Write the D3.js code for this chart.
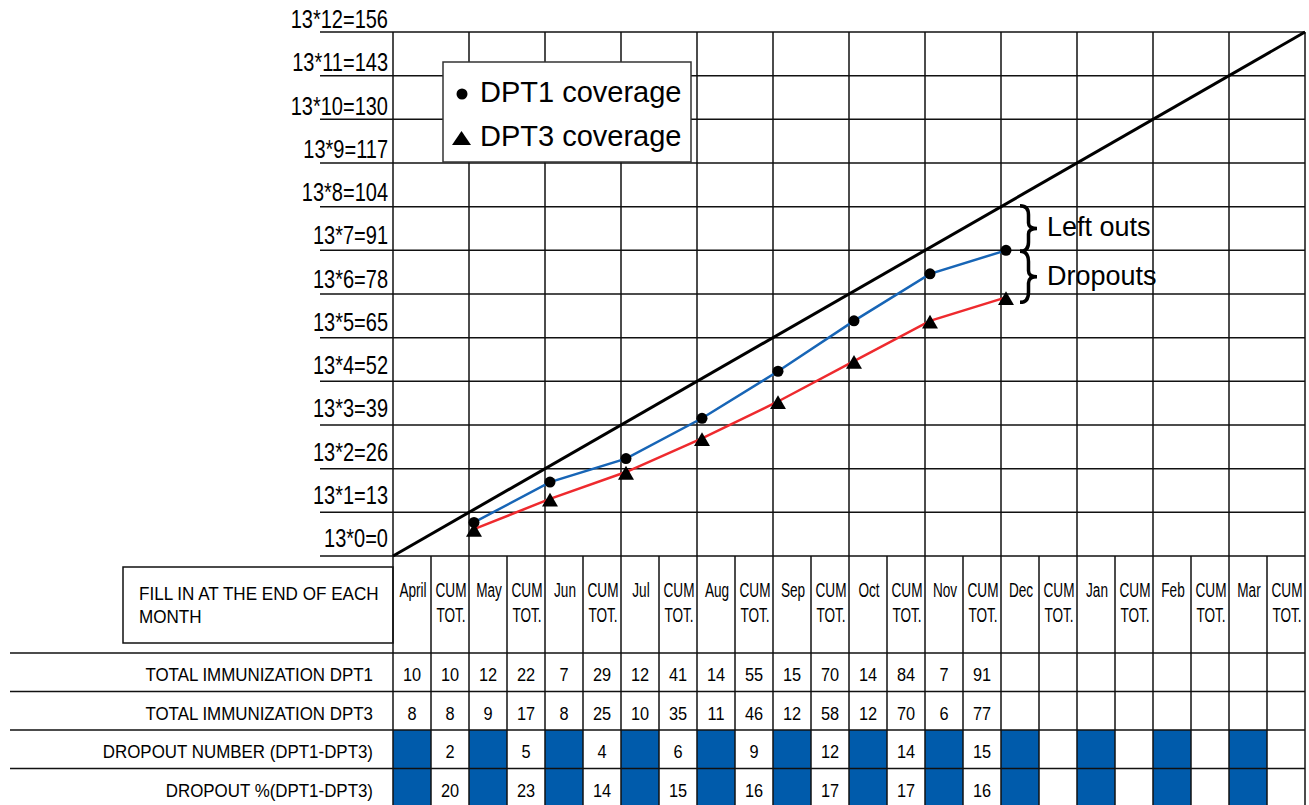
<!DOCTYPE html>
<html>
<head>
<meta charset="utf-8">
<script src="https://cdn.jsdelivr.net/npm/d3@7"></script>
<style>
  html, body { margin: 0; padding: 0; background: #fff; }
  svg { display: block; }
  text { font-family: "Liberation Sans", Arial, sans-serif; fill: #000; }
</style>
</head>
<body>
<svg id="chart" width="1309" height="805"></svg>
<script>
// ---------------- DATA ----------------
const months = ["April", "May", "Jun", "Jul", "Aug", "Sep", "Oct", "Nov", "Dec", "Jan", "Feb", "Mar"];
const cumLabel = ["CUM", "TOT."];
const yTickValues = [0, 13, 26, 39, 52, 65, 78, 91, 104, 117, 130, 143, 156];
const yTickLabels = ["13*0=0", "13*1=13", "13*2=26", "13*3=39", "13*4=52", "13*5=65", "13*6=78",
                     "13*7=91", "13*8=104", "13*9=117", "13*10=130", "13*11=143", "13*12=156"];
const dpt1Monthly = [10, 12, 7, 12, 14, 15, 14, 7];
const dpt1Cum     = [10, 22, 29, 41, 55, 70, 84, 91];
const dpt3Monthly = [8, 9, 8, 10, 11, 12, 12, 6];
const dpt3Cum     = [8, 17, 25, 35, 46, 58, 70, 77];
const dropoutNum  = [2, 5, 4, 6, 9, 12, 14, 15];
const dropoutPct  = [20, 23, 14, 15, 16, 17, 17, 16];
const targetLine  = [0, 156];          // monthly target 13 -> 156 in 12 months
const rowLabels = ["TOTAL IMMUNIZATION DPT1", "TOTAL IMMUNIZATION DPT3",
                   "DROPOUT NUMBER (DPT1-DPT3)", "DROPOUT %(DPT1-DPT3)"];
const headerNote = ["FILL IN AT THE END OF EACH", "MONTH"];
const legendItems = ["DPT1 coverage", "DPT3 coverage"];
const annotations = ["Left outs", "Dropouts"];

// ---------------- SCALES ----------------
const svg = d3.select("#chart");
const x = d3.scaleLinear().domain([0, 24]).range([393, 1305]);      // table columns (2 per month)
const y = d3.scaleLinear().domain([0, 156]).range([556, 32]);
const yLab = d3.scaleLinear().domain([0, 156]).range([547, 28]);    // label baselines
const row = d3.scaleLinear().domain([0, 4]).range([653, 807]);
const monthX = m => x(2 * m + 2) + 5;                               // point at end of month
const blue = "#1765b6", red = "#ee2a2e", cellBlue = "#005bab";

// condensed text helper
function ctext(g, tx, ty, str, size, sx, anchor) {
  return g.append("text")
    .attr("transform", `translate(${tx},${ty}) scale(${sx},1)`)
    .attr("font-size", size).attr("text-anchor", anchor || "start").text(str);
}

// ---------------- GRID ----------------
const grid = svg.append("g").attr("stroke", "#111").attr("stroke-width", 1.5);
grid.selectAll("line.h").data(yTickValues).join("line")
  .attr("x1", 320).attr("x2", x(24))
  .attr("y1", d => y(d)).attr("y2", d => y(d));
grid.selectAll("line.v").data(d3.range(0, 25, 2)).join("line")
  .attr("x1", d => x(d)).attr("x2", d => x(d))
  .attr("y1", y(156)).attr("y2", y(0));

// y labels
const yl = svg.append("g");
yTickValues.forEach((v, i) => ctext(yl, 388, yLab(v), yTickLabels[i], 25, 0.80, "end"));

// ---------------- TABLE ----------------
const tbl = svg.append("g");
[2, 3].forEach(r => {
  tbl.append("g").selectAll("rect").data(months).join("rect")
    .attr("x", (d, i) => x(2 * i)).attr("width", x(1) - x(0))
    .attr("y", row(r)).attr("height", row(r + 1) - row(r))
    .attr("fill", cellBlue);
});
tbl.selectAll("line.r").data([0, 1, 2, 3]).join("line")
  .attr("x1", 10).attr("x2", x(24))
  .attr("y1", d => row(d)).attr("y2", d => row(d))
  .attr("stroke", "#111").attr("stroke-width", 1.5);
tbl.selectAll("line.c").data(d3.range(0, 25)).join("line")
  .attr("x1", d => x(d)).attr("x2", d => x(d))
  .attr("y1", y(0)).attr("y2", 805)
  .attr("stroke", "#111").attr("stroke-width", 1.5);

// header box
svg.append("rect").attr("x", 123).attr("y", 567).attr("width", 393 - 123).attr("height", 643 - 567)
  .attr("fill", "none").attr("stroke", "#111").attr("stroke-width", 1.5);
const hn = svg.append("g");
headerNote.forEach((t, i) => ctext(hn, 139, 600 + i * 23, t, 18, 0.95));

// month headers
const hdr = svg.append("g");
months.forEach((m, i) => {
  ctext(hdr, (x(2 * i) + x(2 * i + 1)) / 2 + 1, 597, m, 20, 0.68, "middle");
  cumLabel.forEach((c, j) => {
    ctext(hdr, (x(2 * i + 1) + x(2 * i + 2)) / 2 + 1, 597 + j * 25, c, 20, 0.68, "middle");
  });
});

// row labels
const rl = svg.append("g");
rowLabels.forEach((t, i) => ctext(rl, 373, (row(i) + row(i + 1)) / 2 + 9, t, 18, 0.94, "end"));

// numbers
const nums = svg.append("g");
function putRow(arr, r, colOffset) {
  arr.forEach((d, i) => ctext(nums, (x(2 * i + colOffset) + x(2 * i + colOffset + 1)) / 2,
    (row(r) + row(r + 1)) / 2 + 9, d, 19, 0.86, "middle"));
}
putRow(dpt1Monthly, 0, 0); putRow(dpt1Cum, 0, 1);
putRow(dpt3Monthly, 1, 0); putRow(dpt3Cum, 1, 1);
putRow(dropoutNum, 2, 1); putRow(dropoutPct, 3, 1);

// ---------------- LINES ----------------
svg.append("line")
  .attr("x1", x(0)).attr("y1", y(targetLine[0]))
  .attr("x2", x(24)).attr("y2", y(targetLine[1]))
  .attr("stroke", "#000").attr("stroke-width", 3);

const line = d3.line().x((d, i) => monthX(i)).y(d => y(d));
svg.append("path").datum(dpt1Cum).attr("d", line).attr("fill", "none").attr("stroke", blue).attr("stroke-width", 2.5);
svg.append("path").datum(dpt3Cum).attr("d", line).attr("fill", "none").attr("stroke", red).attr("stroke-width", 2.5);
svg.append("g").selectAll("circle").data(dpt1Cum).join("circle")
  .attr("cx", (d, i) => monthX(i)).attr("cy", d => y(d)).attr("r", 5.5).attr("fill", "#000");
const tri = d3.symbol().type(d3.symbolTriangle).size(110);
svg.append("g").selectAll("path").data(dpt3Cum).join("path")
  .attr("d", tri).attr("transform", (d, i) => `translate(${monthX(i)},${y(d) + 3})`).attr("fill", "#000");

// ---------------- LEGEND ----------------
const lg = svg.append("g");
lg.append("rect").attr("x", 443).attr("y", 62).attr("width", 248).attr("height", 100)
  .attr("fill", "#fff").attr("stroke", "#333").attr("stroke-width", 1.5);
lg.append("circle").attr("cx", 462).attr("cy", 94).attr("r", 5.5).attr("fill", "#000");
lg.append("path").attr("d", "M452,145 L461.5,131 L471,145 Z").attr("fill", "#000");
lg.selectAll("text").data(legendItems).join("text")
  .attr("x", 480).attr("y", (d, i) => 102 + i * 44).attr("font-size", 29).text(d => d);

// ---------------- BRACES ----------------
function brace(x0, y0, y1, w) {
  const h = y1 - y0, m = (y0 + y1) / 2, xm = x0 + w * 0.5;
  return `M${x0},${y0} Q${xm},${y0} ${xm},${y0 + h * 0.2} L${xm},${m - h * 0.12} Q${xm},${m} ${x0 + w},${m}` +
         ` Q${xm},${m} ${xm},${m + h * 0.12} L${xm},${y1 - h * 0.2} Q${xm},${y1} ${x0},${y1}`;
}
const bx = x(16) + 19;
const brY = [y(104) - 1, y(dpt1Cum[7]) + 1, y(dpt3Cum[7]) + 5];
svg.append("path").attr("d", brace(bx, brY[0], brY[1], 17)).attr("fill", "none").attr("stroke", "#000").attr("stroke-width", 3.5);
svg.append("path").attr("d", brace(bx, brY[1], brY[2], 17)).attr("fill", "none").attr("stroke", "#000").attr("stroke-width", 3.5);
svg.append("g").selectAll("text").data(annotations).join("text")
  .attr("x", 1047).attr("y", (d, i) => [236, 285][i]).attr("font-size", 27).text(d => d);
</script>
</body>
</html>
